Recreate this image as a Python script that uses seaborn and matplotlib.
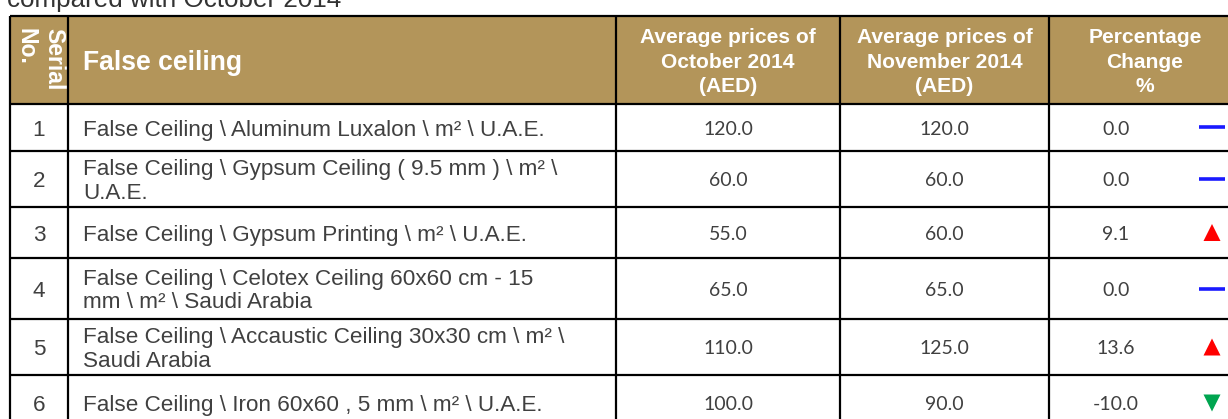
import matplotlib
matplotlib.use("Agg")
import matplotlib.pyplot as plt
import seaborn as sns
import pandas as pd

# ---------------- data ----------------
title_text = "compared with October 2014"
header_serial = ["Serial", "No."]
header_item = "False ceiling"
header_oct = "Average prices of\nOctober 2014\n(AED)"
header_nov = "Average prices of\nNovember 2014\n(AED)"
header_pct = "Percentage\nChange\n%"

serials = [1, 2, 3, 4, 5, 6]
items = [
    "False Ceiling \\ Aluminum Luxalon \\ m\u00b2 \\ U.A.E.",
    "False Ceiling \\ Gypsum Ceiling ( 9.5 mm ) \\ m\u00b2 \\\nU.A.E.",
    "False Ceiling \\ Gypsum Printing \\ m\u00b2 \\ U.A.E.",
    "False Ceiling \\ Celotex Ceiling 60x60 cm - 15\nmm \\ m\u00b2 \\ Saudi Arabia",
    "False Ceiling \\ Accaustic Ceiling 30x30 cm \\ m\u00b2 \\\nSaudi Arabia",
    "False Ceiling \\ Iron 60x60 , 5 mm \\ m\u00b2 \\ U.A.E.",
]
oct_prices = [120.0, 60.0, 55.0, 65.0, 110.0, 100.0]
nov_prices = [120.0, 60.0, 60.0, 65.0, 125.0, 90.0]
pct_change = [0.0, 0.0, 9.1, 0.0, 13.6, -10.0]

# ---------------- layout / style ----------------
W, H = 1228, 419
col_edges = [10, 68, 616, 840, 1049, 1183, 1241]
table_top = 16
header_bottom = 104
row_edges = [104, 151, 207, 258, 319, 375, 431]

HEADER_BG = "#B3955A"
TEXT_GREY = "#404040"
LINE_W = 1.6
PX = 0.72  # px -> pt at dpi 100

sns.set_style("white")
plt.rcParams["font.family"] = ["Liberation Sans", "DejaVu Sans"]

fig = plt.figure(figsize=(W / 100, H / 100), dpi=100)
ax = fig.add_axes([0, 0, 1, 1])


def draw_lines(x, yc, text, size_px, step_px, ha="center", **kw):
    lines = text.split("\n")
    n = len(lines)
    for i, line in enumerate(lines):
        y = yc + (i - (n - 1) / 2) * step_px + 0.36 * size_px
        ax.text(x, y, line, ha=ha, va="baseline", fontsize=size_px * PX, **kw)


# indicators (seaborn scatter on pixel-space axes)
centers = [(row_edges[i] + row_edges[i + 1]) / 2 for i in range(len(serials))]
ind_x = (col_edges[5] + col_edges[6]) / 2
df = pd.DataFrame({
    "x": [ind_x] * len(pct_change),
    "y": centers,
    "dir": ["up" if p > 0 else ("down" if p < 0 else "flat") for p in pct_change],
})
tri = df[df["dir"] != "flat"]
sns.scatterplot(data=tri, x="x", y="y", hue="dir", style="dir",
                markers={"up": "^", "down": "v"},
                palette={"up": "#FF0000", "down": "#00A550"},
                s=150, linewidth=0, legend=False, ax=ax, zorder=3)
flat = df[df["dir"] == "flat"]
sns.scatterplot(data=flat, x="x", y="y", marker="_", s=330, color="#1A1AFF",
                linewidth=2.6, legend=False, ax=ax, zorder=3)
ax.set_xlim(0, W)
ax.set_ylim(H, 0)
ax.axis("off")

# title (partially cut at top, as in the reference)
ax.text(7, 7, title_text, ha="left", va="baseline", fontsize=26 * PX, color="#333333")

# header background
ax.add_patch(plt.Rectangle((col_edges[0], table_top), col_edges[-1] - col_edges[0],
                           header_bottom - table_top, facecolor=HEADER_BG,
                           edgecolor="none", zorder=0))

hc = (table_top + header_bottom) / 2
# rotated serial header: "Serial" on the right, "No." on the left
for xh, word in zip([54, 26], header_serial):
    ax.text(xh, 28, word, rotation=-90, rotation_mode="anchor", ha="left", va="center",
            fontsize=23 * PX, color="white", fontweight="bold")
draw_lines(83, hc, header_item, 26.5, 26, ha="left", color="white", fontweight="bold")
for text, (a, b) in zip([header_oct, header_nov, header_pct],
                        [(col_edges[2], col_edges[3]), (col_edges[3], col_edges[4]),
                         (col_edges[4], col_edges[6])]):
    draw_lines((a + b) / 2, hc, text, 21, 24.5, color="white", fontweight="bold")

# body
num_font = ["Lato", "DejaVu Sans"]
for i, yc in enumerate(centers):
    draw_lines((col_edges[0] + col_edges[1]) / 2, yc, str(serials[i]), 22.5, 23.5, color=TEXT_GREY)
    draw_lines(83, yc, items[i], 22.5, 23.5, ha="left", color=TEXT_GREY)
    draw_lines((col_edges[2] + col_edges[3]) / 2, yc, f"{oct_prices[i]:.1f}", 19.5, 22,
               color=TEXT_GREY, family=num_font)
    draw_lines((col_edges[3] + col_edges[4]) / 2, yc, f"{nov_prices[i]:.1f}", 19.5, 22,
               color=TEXT_GREY, family=num_font)
    draw_lines((col_edges[4] + col_edges[5]) / 2, yc, f"{pct_change[i]:.1f}", 19.5, 22,
               color=TEXT_GREY, family=num_font)

# grid lines
ax.hlines([table_top, header_bottom] + row_edges[1:], col_edges[0], col_edges[-1],
          color="black", linewidth=LINE_W, zorder=4)
ax.vlines(col_edges[:5], table_top, row_edges[-1], color="black", linewidth=LINE_W, zorder=4)

fig.savefig("out.png", dpi=100)
